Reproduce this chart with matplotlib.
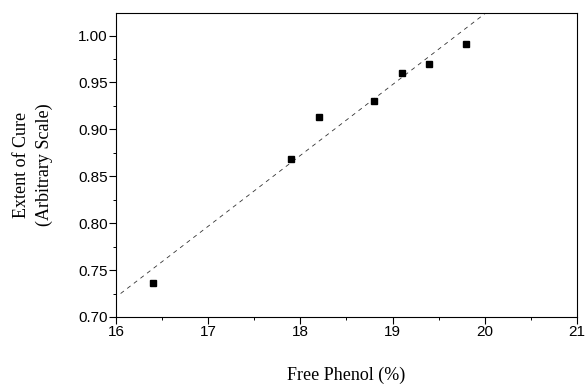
import numpy as np
import matplotlib
matplotlib.use("Agg")
import matplotlib.pyplot as plt
from matplotlib.ticker import MultipleLocator

# data
free_phenol = [16.4, 17.9, 18.2, 18.8, 19.1, 19.4, 19.8]
extent_of_cure = [0.736, 0.868, 0.913, 0.930, 0.960, 0.970, 0.991]

# end points of the dashed fit line
fit_x = [16.05, 20.05]
fit_y = [0.725, 1.027]

x_ticks = [16, 17, 18, 19, 20, 21]
y_ticks = [0.70, 0.75, 0.80, 0.85, 0.90, 0.95, 1.00]


def main():
    fig = plt.figure(figsize=(5.85, 3.87), dpi=100)
    ax = fig.add_axes([0.1983, 0.1809, 0.7880, 0.7855])

    ax.plot(fit_x, fit_y, color="#333333", linewidth=0.6, linestyle=(0, (5, 5)))
    ax.plot(free_phenol, extent_of_cure, linestyle="none", marker="s",
            markersize=4.5, color="black")

    ax.set_xlim(16, 21)
    ax.set_ylim(0.70, 1.024)
    ax.set_xticks(x_ticks)
    ax.set_yticks(y_ticks)
    ax.xaxis.set_minor_locator(MultipleLocator(0.5))
    ax.yaxis.set_minor_locator(MultipleLocator(0.025))
    ax.set_yticklabels([f"{v:.2f}" for v in y_ticks])

    ax.tick_params(which="major", direction="out", length=5, width=0.8,
                   labelsize=11, pad=1)
    ax.tick_params(which="minor", direction="out", length=2.5, width=0.7)
    for lab in ax.get_xticklabels() + ax.get_yticklabels():
        lab.set_family("Liberation Sans")

    ax.set_xlabel("Free Phenol (%)", family="Liberation Serif", fontsize=13,
                  labelpad=20)
    ax.set_ylabel("Extent of Cure\n(Arbitrary Scale)", family="Liberation Serif",
                  fontsize=13, labelpad=18, linespacing=1.4)

    fig.savefig("out.png", dpi=100)


if __name__ == "__main__":
    main()
